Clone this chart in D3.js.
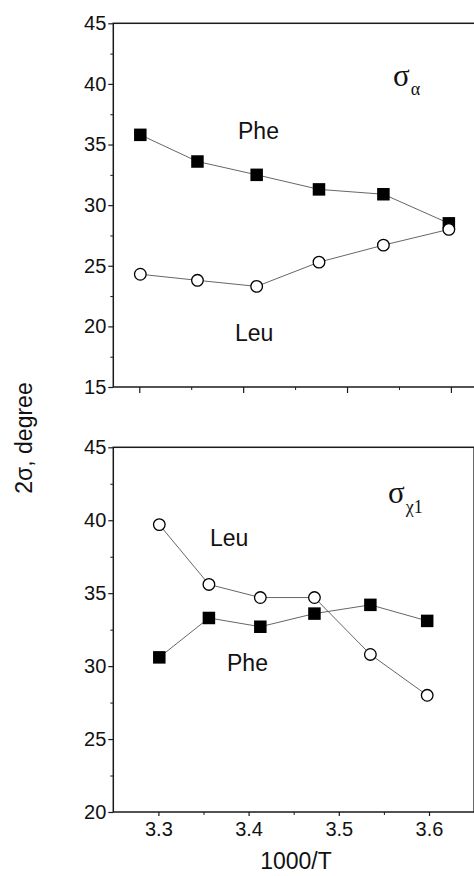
<!DOCTYPE html>
<html>
<head>
<meta charset="utf-8">
<script src="https://cdn.jsdelivr.net/npm/d3@7"></script>
<style>
  html, body { margin: 0; padding: 0; background: #fff; }
  svg { display: block; }
</style>
</head>
<body>
<svg id="chart" width="474" height="876"></svg>
<script>
// ---- data ----
const invT = [3.301, 3.356, 3.413, 3.473, 3.535, 3.598];
const alphaPhe = [35.8, 33.6, 32.5, 31.3, 30.9, 28.5];
const alphaLeu = [24.3, 23.8, 23.3, 25.3, 26.7, 28.0];
const chiLeu = [39.7, 35.6, 34.7, 34.7, 30.8, 28.0];
const chiPhe = [30.6, 33.3, 32.7, 33.6, 34.2, 33.1];
const xTickLabels = ["3.3", "3.4", "3.5", "3.6"];
const yTicksTop = [15, 20, 25, 30, 35, 40, 45];
const yTicksBottom = [20, 25, 30, 35, 40, 45];

const svg = d3.select("#chart");
const FONT = "'Liberation Sans', Arial, sans-serif";
const SERIF = "'Liberation Serif', 'Times New Roman', serif";
const axisColor = "#1a1a1a";

const left = 113.3;
const panels = [
  { xDomain: [3.275, 3.625], xRight: 476.9, yDomain: [15, 45], top: 23.3, bottom: 387,
    series: [{ v: alphaPhe, type: "square" }, { v: alphaLeu, type: "circle" }],
    yTicks: yTicksTop, showXLabels: false,
    sigma: { x: 393, y: 86, sub: "α", subDx: 1, subDy: 9 },
    labels: [{ t: "Phe", x: 238, y: 139 }, { t: "Leu", x: 235, y: 341 }] },
  { xDomain: [3.25, 3.65], xRight: 474.1, yDomain: [20, 45], top: 447.3, bottom: 812,
    series: [{ v: chiPhe, type: "square" }, { v: chiLeu, type: "circle" }],
    yTicks: yTicksBottom, showXLabels: true,
    sigma: { x: 388, y: 503, sub: "χ1", subDx: 1, subDy: 10 },
    labels: [{ t: "Leu", x: 210, y: 546 }, { t: "Phe", x: 227, y: 671 }] }
];

panels.forEach(p => {
  const x = d3.scaleLinear().domain(p.xDomain).range([left, p.xRight]);
  const y = d3.scaleLinear().domain(p.yDomain).range([p.bottom, p.top]);
  const g = svg.append("g");

  // frame
  g.append("rect").attr("x", left).attr("y", p.top)
    .attr("width", p.xRight - left).attr("height", p.bottom - p.top)
    .attr("fill", "none").attr("stroke", axisColor).attr("stroke-width", 1.5);

  // y axis major
  const yAxis = d3.axisLeft(y).tickValues(p.yTicks).tickSize(5).tickPadding(2)
    .tickFormat(d3.format("d"));
  const ya = g.append("g").attr("transform", `translate(${left},0)`).call(yAxis);
  ya.select(".domain").remove();
  ya.selectAll("line").attr("stroke", axisColor).attr("stroke-width", 1.2);
  ya.selectAll("text").attr("font-family", FONT).attr("font-size", 20).attr("fill", "#111");
  // y minor
  const yMinor = d3.range(p.yDomain[0] + 2.5, p.yDomain[1], 5);
  g.append("g").attr("transform", `translate(${left},0)`)
    .call(d3.axisLeft(y).tickValues(yMinor).tickSize(3).tickFormat(""))
    .call(s => s.select(".domain").remove())
    .selectAll("line").attr("stroke", axisColor).attr("stroke-width", 1);

  // x axis major
  const xMajor = xTickLabels.map(Number);
  const xAxis = d3.axisBottom(x).tickValues(xMajor).tickSize(p.showXLabels ? 4 : 6).tickPadding(6)
    .tickFormat((d, i) => p.showXLabels ? xTickLabels[i] : "");
  const xa = g.append("g").attr("transform", `translate(0,${p.bottom})`).call(xAxis);
  xa.select(".domain").remove();
  xa.selectAll("line").attr("stroke", axisColor).attr("stroke-width", 1.2);
  xa.selectAll("text").attr("font-family", FONT).attr("font-size", 20).attr("fill", "#111");
  // x minor
  const xMinor = [3.25, 3.35, 3.45, 3.55].filter(v => v > p.xDomain[0]);
  g.append("g").attr("transform", `translate(0,${p.bottom})`)
    .call(d3.axisBottom(x).tickValues(xMinor).tickSize(3).tickFormat(""))
    .call(s => s.select(".domain").remove())
    .selectAll("line").attr("stroke", axisColor).attr("stroke-width", 1);

  // series
  p.series.forEach(s => {
    const line = d3.line().x((d, i) => x(invT[i])).y(d => y(d));
    g.append("path").datum(s.v).attr("d", line)
      .attr("fill", "none").attr("stroke", "#555").attr("stroke-width", 0.9);
  });
  p.series.forEach(s => {
    if (s.type === "square") {
      const sz = 12.5;
      g.selectAll(null).data(s.v).enter().append("rect")
        .attr("x", (d, i) => x(invT[i]) - sz / 2).attr("y", d => y(d) - sz / 2)
        .attr("width", sz).attr("height", sz).attr("fill", "#000");
    } else {
      g.selectAll(null).data(s.v).enter().append("circle")
        .attr("cx", (d, i) => x(invT[i])).attr("cy", d => y(d)).attr("r", 5.8)
        .attr("fill", "#fff").attr("stroke", "#000").attr("stroke-width", 1.3);
    }
  });

  // labels
  p.labels.forEach(l => {
    g.append("text").attr("x", l.x).attr("y", l.y).text(l.t)
      .attr("font-family", FONT).attr("font-size", 23).attr("fill", "#111");
  });
  const sg = g.append("text").attr("x", p.sigma.x).attr("y", p.sigma.y)
    .attr("font-family", SERIF).attr("fill", "#111");
  sg.append("tspan").attr("font-size", 31).text("σ");
  sg.append("tspan").attr("font-size", 18).attr("dx", p.sigma.subDx).attr("dy", p.sigma.subDy)
    .text(p.sigma.sub);
});

// axis titles
svg.append("text").attr("transform", "translate(32,438) rotate(-90)")
  .attr("text-anchor", "middle").attr("font-family", FONT).attr("font-size", 23)
  .attr("fill", "#111").text("2σ, degree");
svg.append("text").attr("x", 296).attr("y", 869)
  .attr("text-anchor", "middle").attr("font-family", FONT).attr("font-size", 23)
  .attr("fill", "#111").text("1000/T");
</script>
</body>
</html>
